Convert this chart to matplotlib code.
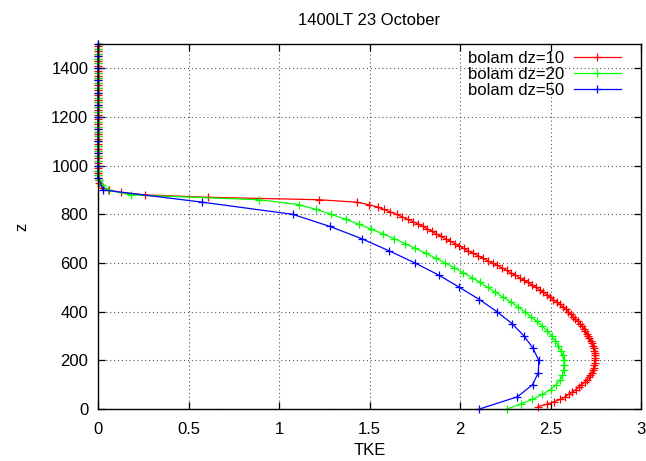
import numpy as np
import matplotlib
matplotlib.use("Agg")
import matplotlib.pyplot as plt

# =========================
# 数据：TKE 随高度 z 的廓线
# =========================

title = "1400LT 23 October"
labels = ["bolam dz=10", "bolam dz=20", "bolam dz=50"]
colors = ["#ff0000", "#00ff00", "#0000ff"]

# dz=10 : z = 10, 20, ..., 1500
z10 = np.arange(10, 1501, 10)
tke10 = [2.43, 2.48, 2.52, 2.555, 2.58, 2.60, 2.62, 2.64, 2.655, 2.67,
         2.69, 2.70, 2.71, 2.72, 2.728, 2.734, 2.739, 2.743, 2.745, 2.746,
         2.746, 2.745, 2.744, 2.742, 2.738, 2.733, 2.728, 2.722, 2.715, 2.708,
         2.70, 2.692, 2.683, 2.673, 2.662, 2.65, 2.638, 2.625, 2.612, 2.598,
         2.583, 2.567, 2.551, 2.534, 2.516, 2.498, 2.480, 2.461, 2.441, 2.420,
         2.398, 2.375, 2.352, 2.329, 2.305, 2.281, 2.257, 2.232, 2.206, 2.180,
         2.153, 2.126, 2.099, 2.072, 2.045, 2.02, 1.995, 1.97, 1.945, 1.92,
         1.895, 1.87, 1.845, 1.82, 1.795, 1.77, 1.74, 1.71, 1.68, 1.65,
         1.615, 1.58, 1.545, 1.495, 1.43, 1.22, 0.61, 0.26, 0.125, 0.06,
         0.03, 0.015, 0.007, 0.003] + [0.0] * 56

# dz=20 : z = 0, 20, ..., 1500
z20 = np.arange(0, 1501, 20)
tke20 = [2.26, 2.335, 2.40, 2.455, 2.50, 2.532, 2.553, 2.566, 2.573, 2.575,
         2.573, 2.567, 2.557, 2.544, 2.527, 2.506, 2.482, 2.455, 2.425, 2.392,
         2.357, 2.32, 2.28, 2.238, 2.195, 2.152, 2.11, 2.066, 2.018, 1.969,
         1.918, 1.865, 1.81, 1.753, 1.696, 1.637, 1.573, 1.508, 1.44, 1.368,
         1.288, 1.205, 1.11, 0.89, 0.18, 0.055, 0.02, 0.005] + [0.0] * 28

# dz=50 : z = 0, 50, ..., 1500
z50 = np.arange(0, 1501, 50)
tke50 = [2.107, 2.317, 2.401, 2.433, 2.435, 2.403, 2.354, 2.289, 2.204, 2.107,
         1.997, 1.883, 1.752, 1.608, 1.457, 1.282, 1.076, 0.576, 0.03] + [0.0] * 12

xticks = [0, 0.5, 1, 1.5, 2, 2.5, 3]
xticklabels = ["0", "0.5", "1", "1.5", "2", "2.5", "3"]
yticks = [0, 200, 400, 600, 800, 1000, 1200, 1400]

# =========================
# 绘图（gnuplot 风格）
# =========================

plt.rcParams["font.family"] = ["Liberation Sans", "DejaVu Sans"]
plt.rcParams["font.size"] = 12

fig = plt.figure(figsize=(6.46, 4.61), dpi=100)
ax = fig.add_axes([98 / 646, 1 - 409 / 461, 543 / 646, 365 / 461])

for x, z, c, lab in zip([tke10, tke20, tke50], [z10, z20, z50], colors, labels):
    ax.plot(x, z, color=c, lw=0.9, marker="+", ms=6, mew=0.9,
            label=lab, clip_on=False, zorder=3)

ax.set_xlim(0, 3)
ax.set_ylim(0, 1500)
ax.set_xticks(xticks)
ax.set_xticklabels(xticklabels)
ax.set_yticks(yticks)

ax.grid(True, color="#555555", linestyle=(0, (1, 2.5)), linewidth=0.8)
ax.tick_params(direction="in", length=5, width=0.9, top=True, right=True,
               pad=7, labelsize=12)
ax.tick_params(axis="x", pad=9)
for s in ax.spines.values():
    s.set_linewidth(1.0)
    s.set_zorder(4)

ax.set_xlabel("TKE", labelpad=5)
ax.set_ylabel("z", labelpad=16)
ax.set_title(title, fontsize=12, pad=14)

ax.legend(loc="upper right", bbox_to_anchor=(0.975, 0.999), frameon=False,
          markerfirst=False, handlelength=2.8, labelspacing=0.05,
          handletextpad=0.6, borderaxespad=0.0, borderpad=0.4, fontsize=12)

plt.savefig("out.png", dpi=100)
plt.close()
